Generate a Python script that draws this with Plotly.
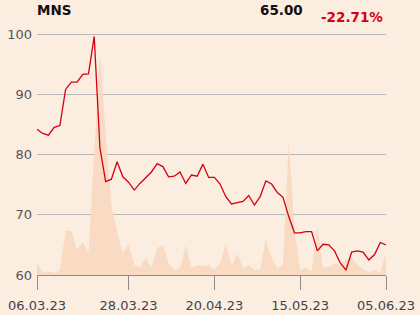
import plotly.graph_objects as go

tick_labels = ["06.03.23", "28.03.23", "20.04.23", "15.05.23", "05.06.23"]
tick_index = [0, 16, 31, 46, 61]

price = [84.2, 83.5, 83.2, 84.5, 84.8, 90.8, 92.0, 92.0, 93.3, 93.4,
         99.6, 81.1, 75.5, 75.9, 78.8, 76.3, 75.4, 74.1, 75.2, 76.2,
         77.1, 78.5, 78.0, 76.3, 76.4, 77.1, 75.2, 76.6, 76.4, 78.4,
         76.2, 76.2, 75.1, 73.0, 71.8, 72.0, 72.2, 73.2, 71.6, 73.0,
         75.6, 75.1, 73.7, 72.9, 69.7, 67.0, 67.0, 67.2, 67.2, 64.0,
         65.1, 65.0, 64.0, 62.0, 60.8, 63.8, 64.0, 63.8, 62.5, 63.4,
         65.4, 65.0]

volume = [12.7, 2.3, 3.7, 1.7, 5, 44.3, 44.3, 25, 33.3, 22.3,
          122, 222, 140, 70, 43, 22, 31, 10, 7.5, 17,
          7.5, 27, 30, 12, 4.5, 7, 30, 7.5, 9.3, 9,
          10, 5, 11.7, 31.7, 9, 21.7, 6.7, 10, 5, 5.7,
          35.7, 16.7, 6.7, 10, 134, 45, 5, 7.7, 3.3, 47.7,
          7.7, 8.3, 11.7, 10, 15, 16.7, 10, 5.7, 3.3, 5,
          2.3, 21.7]

idx = list(range(len(price)))

fig = go.Figure()
fig.add_trace(go.Scatter(x=idx, y=volume, mode="lines", fill="tozeroy",
                         line=dict(width=0, color="#f8d9c0"),
                         fillcolor="#f9dac2", yaxis="y", hoverinfo="skip"))
fig.add_trace(go.Scatter(x=idx, y=price, mode="lines",
                         line=dict(width=1.3, color="#d40010"), yaxis="y2"))

bg = "#fcede1"
fig.update_layout(
    width=420, height=315, paper_bgcolor=bg, plot_bgcolor=bg,
    margin=dict(l=37, r=34, t=28, b=40),
    showlegend=False,
    font=dict(family="DejaVu Sans", size=13, color="#444444"),
    xaxis=dict(range=[0, 61], tickvals=tick_index, ticktext=tick_labels,
               showgrid=False, zeroline=False, showline=True, linecolor="#8c8c8c",
               linewidth=1, ticks="outside", ticklen=14, tickcolor="#8c8c8c",
               automargin=False, ticklabelstandoff=4,
               tickfont=dict(size=13, color="#444444")),
    yaxis=dict(range=[0, 247], visible=False, showgrid=False, zeroline=False,
               automargin=False),
    yaxis2=dict(range=[60, 101], overlaying="y", side="left", automargin=False,
                tickvals=[60, 70, 80, 90, 100], showgrid=True, gridcolor="#b8b8b8",
                gridwidth=1, zeroline=False, ticks="", ticklabelstandoff=4,
                tickfont=dict(size=13, color="#555555")),
    annotations=[
        dict(text="<b>MNS</b>", xref="paper", yref="paper", x=-2 / 349, y=(275 - 10) / 247,
             xanchor="left", yanchor="middle", showarrow=False,
             font=dict(size=13.5, color="#111111")),
        dict(text="<b>65.00</b>", xref="paper", yref="paper", x=(305 - 37) / 349,
             y=(275 - 10) / 247, xanchor="right", yanchor="middle", showarrow=False,
             font=dict(size=13.5, color="#111111")),
        dict(text="<b>-22.71%</b>", xref="paper", yref="paper", x=(385 - 37) / 349,
             y=(275 - 17) / 247, xanchor="right", yanchor="middle", showarrow=False,
             font=dict(size=13.5, color="#d40010")),
    ],
)

fig.write_html("out.html")
